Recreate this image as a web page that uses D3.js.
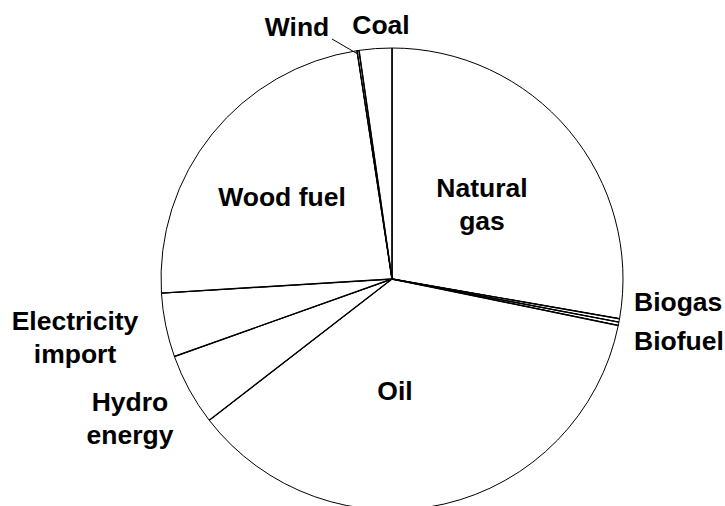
<!DOCTYPE html>
<html>
<head>
<meta charset="utf-8">
<script src="https://cdn.jsdelivr.net/npm/d3@7/dist/d3.min.js"></script>
<style>
  body { margin: 0; background: #fff; }
  svg text { font-family: "Liberation Sans", Arial, sans-serif; font-weight: bold; font-size: 26.5px; fill: #000; }
</style>
</head>
<body>
<svg id="chart" width="725" height="506"></svg>
<script>
// energy sources, clockwise from 12 o'clock (share in %)
const sources = ["Natural gas", "Biogas", "Biofuel", "Oil", "Hydro energy",
  "Electricity import", "Wood fuel", "Wind", "Coal"];
const shares = [27.75, 0.24, 0.23, 36.3, 5.03, 4.47, 23.55, 0.14, 2.28];

// label lines + position (x, baseline y, anchor)
const labelLines = {
  "Natural gas": ["Natural", "gas"],
  "Biogas": ["Biogas"],
  "Biofuel": ["Biofuel"],
  "Oil": ["Oil"],
  "Hydro energy": ["Hydro", "energy"],
  "Electricity import": ["Electricity", "import"],
  "Wood fuel": ["Wood fuel"],
  "Wind": ["Wind"],
  "Coal": ["Coal"]
};
const labelPos = {
  "Natural gas": [482, 197, "middle"],
  "Biogas": [634, 311, "start"],
  "Biofuel": [634, 350, "start"],
  "Oil": [395, 400, "middle"],
  "Hydro energy": [130, 411, "middle"],
  "Electricity import": [75, 330, "middle"],
  "Wood fuel": [282, 206, "middle"],
  "Wind": [297, 36, "middle"],
  "Coal": [381, 34, "middle"]
};

const cx = 392, cy = 279, radius = 231;
const svg = d3.select("#chart");
const g = svg.append("g").attr("transform", "translate(" + cx + "," + cy + ")");

const data = sources.map((s, i) => ({name: s, value: shares[i]}));
const pie = d3.pie().value(d => d.value).sort(null);
const arcs = pie(data);
const arc = d3.arc().innerRadius(0).outerRadius(radius);

g.selectAll("path.slice")
    .data(arcs)
  .enter().append("path")
    .attr("class", "slice")
    .attr("d", arc)
    .attr("fill", "#fff")
    .attr("stroke", "#000")
    .attr("stroke-width", 1)
    .attr("stroke-linejoin", "round");

// radial borders a bit heavier
g.selectAll("line.edge")
    .data(arcs)
  .enter().append("line")
    .attr("class", "edge")
    .attr("x1", 0).attr("y1", 0)
    .attr("x2", d => d3.pointRadial(d.startAngle, radius)[0])
    .attr("y2", d => d3.pointRadial(d.startAngle, radius)[1])
    .attr("stroke", "#000")
    .attr("stroke-width", 1.4);

// leader for Wind
const wind = arcs.find(d => d.data.name === "Wind");
const wp = d3.pointRadial((wind.startAngle + wind.endAngle) / 2, radius - 4);
svg.append("line")
    .attr("x1", 332).attr("y1", 39)
    .attr("x2", cx + wp[0]).attr("y2", cy + wp[1])
    .attr("stroke", "#000")
    .attr("stroke-width", 1);

sources.forEach(s => {
  const p = labelPos[s];
  const t = svg.append("text")
      .attr("x", p[0]).attr("y", p[1])
      .attr("text-anchor", p[2]);
  labelLines[s].forEach((ln, i) => {
    t.append("tspan").attr("x", p[0]).attr("dy", i === 0 ? 0 : 32.5).text(ln);
  });
});
</script>
</body>
</html>
